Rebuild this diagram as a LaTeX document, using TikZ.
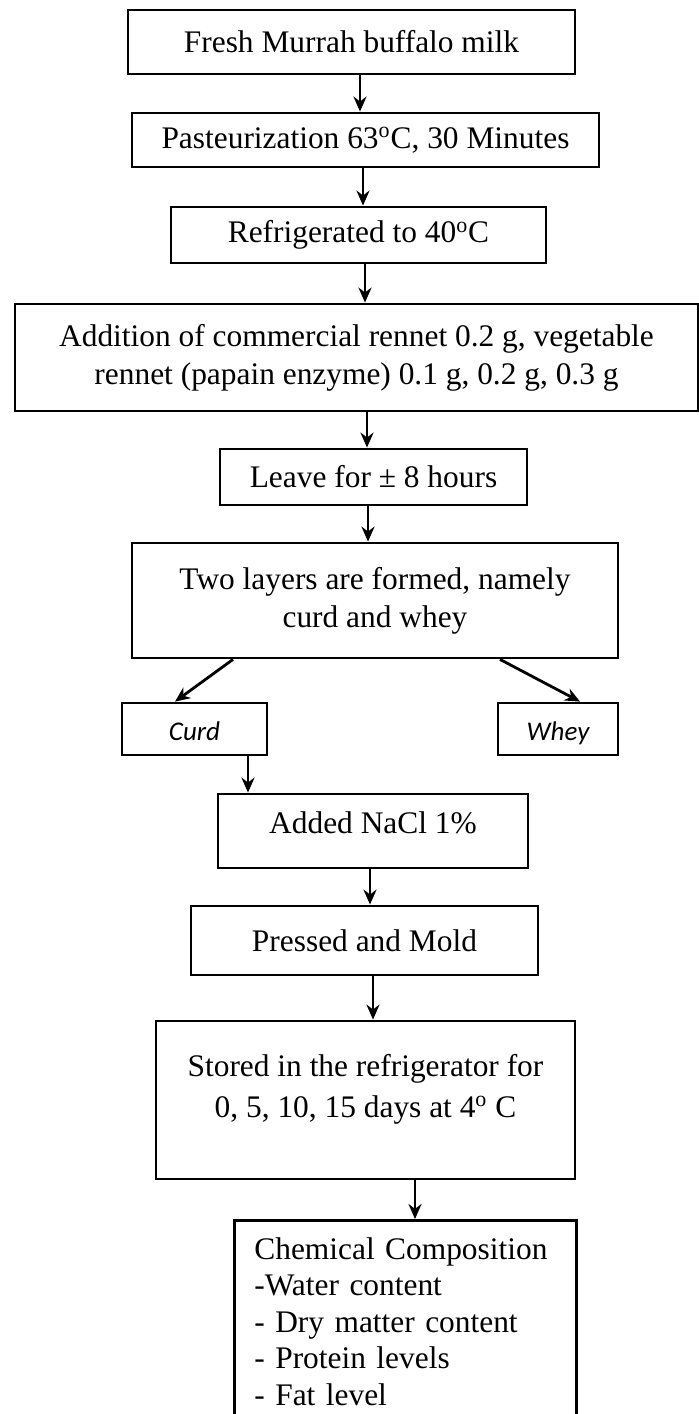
\documentclass[tikz,border=0pt]{standalone}
\usepackage{fontspec}
\setmainfont{Liberation Serif}
\newfontfamily\calibri{Carlito}
\usetikzlibrary{arrows.meta}

\begin{document}
\begin{tikzpicture}[x=0.5pt,y=-0.5pt,
  box/.style={draw,line width=1.4pt,align=center,inner sep=2pt,font=\fontsize{15.7}{19}\selectfont},
  side/.style={draw,line width=1.4pt,inner sep=2pt,text height=11pt,text depth=0pt,font=\calibri\itshape\fontsize{13.5}{16}\selectfont},
  arr/.style={line width=1.4pt,-{Stealth[length=7.5pt,width=6.5pt]}}]
\clip (0,0) rectangle (699,1414);
% process steps
\node[box,minimum width=223.5pt,minimum height=32pt] (milk) at (351.5,42) {Fresh Murrah buffalo milk};
\node[box,minimum width=233.5pt,minimum height=27pt] (past) at (365.5,140) {Pasteurization 63\textsuperscript{o}C, 30 Minutes};
\node[box,minimum width=187.5pt,minimum height=28pt] (cool) at (358.5,235) {Refrigerated to 40\textsuperscript{o}C};
\node[box,minimum width=341.5pt,minimum height=53.5pt] (rennet) at (356.5,357.5) {Addition of commercial rennet 0.2 g, vegetable\\rennet (papain enzyme) 0.1 g, 0.2 g, 0.3 g};
\node[box,minimum width=153.5pt,minimum height=28pt] (leave) at (373.5,477) {Leave for \textpm{} 8 hours};
\node[box,minimum width=243pt,minimum height=57.5pt] (layers) at (375,600.5) {Two layers are formed, namely\\curd and whey};
\node[side,minimum width=72.5pt,minimum height=26pt] (curd) at (194.5,729) {Curd};
\node[side,minimum width=60pt,minimum height=26pt] (whey) at (558,729) {Whey};
\node[box,minimum width=155pt,minimum height=37pt] (salt) at (373,831) {Added NaCl 1\%\\[-11pt]\mbox{}};
\node[box,minimum width=173.5pt,minimum height=34.5pt] (press) at (364.5,940.5) {Pressed and Mold};
\node[box,minimum width=209.5pt,minimum height=79pt,font=\fontsize{15.7}{20.5}\selectfont] (store) at (365.5,1100) {Stored in the refrigerator for\\0, 5, 10, 15 days at 4\textsuperscript{o} C\\[-6pt]\mbox{}};
\node[box,anchor=north west,align=left,text width=151pt,inner xsep=10pt,inner ysep=8.5pt,font=\fontsize{15.7}{18.25}\selectfont] (chem) at (233,1219) {Chemical Composition\\-Water content\\- Dry matter content\\- Protein levels\\- Fat level};
% arrows
\draw[arr] ([xshift=4.25pt]milk.south) -- ([xshift=4.25pt]milk.south |- past.north);
\draw[arr] ([xshift=-1.25pt]past.south) -- ([xshift=-1.25pt]past.south |- cool.north);
\draw[arr] ([xshift=3.25pt]cool.south) -- ([xshift=3.25pt]cool.south |- rennet.north);
\draw[arr] ([xshift=5.25pt]rennet.south) -- ([xshift=5.25pt]rennet.south |- leave.north);
\draw[arr] ([xshift=-2.75pt]leave.south) -- ([xshift=-2.75pt]leave.south |- layers.north);
\draw[arr] ([xshift=-71pt]layers.south) -- ([xshift=-9.75pt]curd.north);
\draw[arr] ([xshift=62.5pt]layers.south) -- ([xshift=11pt]whey.north);
\draw[arr] ([xshift=26.75pt]curd.south) -- ([xshift=26.75pt]curd.south |- salt.north);
\draw[arr] ([xshift=-1.5pt]salt.south) -- ([xshift=-1.5pt]salt.south |- press.north);
\draw[arr] ([xshift=4.25pt]press.south) -- ([xshift=4.25pt]press.south |- store.north);
\draw[arr] ([xshift=24.75pt]store.south) -- ([xshift=24.75pt]store.south |- chem.north);
\end{tikzpicture}
\end{document}
